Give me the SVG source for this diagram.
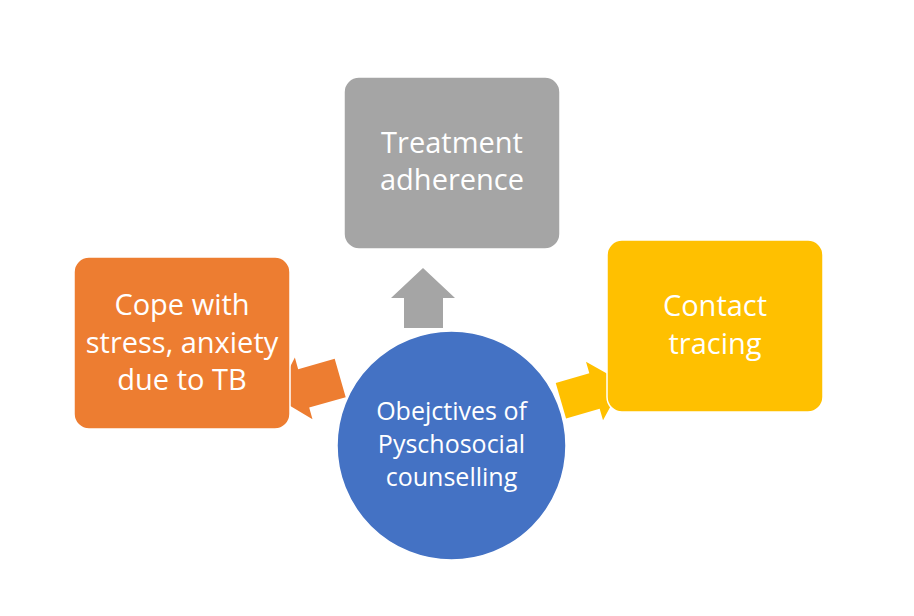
<svg xmlns="http://www.w3.org/2000/svg" width="914" height="616" viewBox="0 0 914 616">
  <style>
    .box { stroke: #FFFFFF; stroke-width: 1.5; }
    .arrow { stroke: none; }
    .lbl { font-family: "Open Sans", "Liberation Sans", sans-serif; fill: #FFFFFF; text-anchor: middle; }
    .big { font-size: 29px; }
    .small { font-size: 25px; }
  </style>
  <rect width="914" height="616" fill="#FFFFFF"/>
  <g id="connectors">
    <path class="arrow" fill="#A5A5A5" d="M404,328 L404,298 L391,298 L423,268 L455,298 L443,298 L443,328 Z"/>
    <path class="arrow" fill="#ED7D31" transform="translate(340.2,377.9) rotate(164)" d="M0,-20 L38,-20 L38,-32 L68,0 L38,32 L38,20 L0,20 Z"/>
    <path class="arrow" fill="#FFC000" transform="translate(560.9,400.8) rotate(-16.2)" d="M0,-18.5 L35,-18.5 L35,-30.5 L65,0 L35,30.5 L35,18.5 L0,18.5 Z"/>
  </g>
  <g id="center">
    <circle class="box" cx="451.5" cy="445.5" r="114.5" fill="#4472C4"/>
    <text class="lbl small" x="451.5" y="420">Obejctives of</text>
    <text class="lbl small" x="451.5" y="453">Pyschosocial</text>
    <text class="lbl small" x="451.5" y="486">counselling</text>
  </g>
  <g id="treatment">
    <rect class="box" x="344" y="77" width="216" height="172" rx="15" fill="#A5A5A5"/>
    <text class="lbl big" x="452" y="153">Treatment</text>
    <text class="lbl big" x="452" y="190">adherence</text>
  </g>
  <g id="cope">
    <rect class="box" x="74" y="257" width="216" height="172" rx="15" fill="#ED7D31"/>
    <text class="lbl big" x="182" y="315">Cope with</text>
    <text class="lbl big" x="182" y="353">stress, anxiety</text>
    <text class="lbl big" x="182" y="390">due to TB</text>
  </g>
  <g id="contact">
    <rect class="box" x="607" y="240" width="216" height="172" rx="15" fill="#FFC000"/>
    <text class="lbl big" x="715" y="316">Contact</text>
    <text class="lbl big" x="715" y="354">tracing</text>
  </g>
</svg>
